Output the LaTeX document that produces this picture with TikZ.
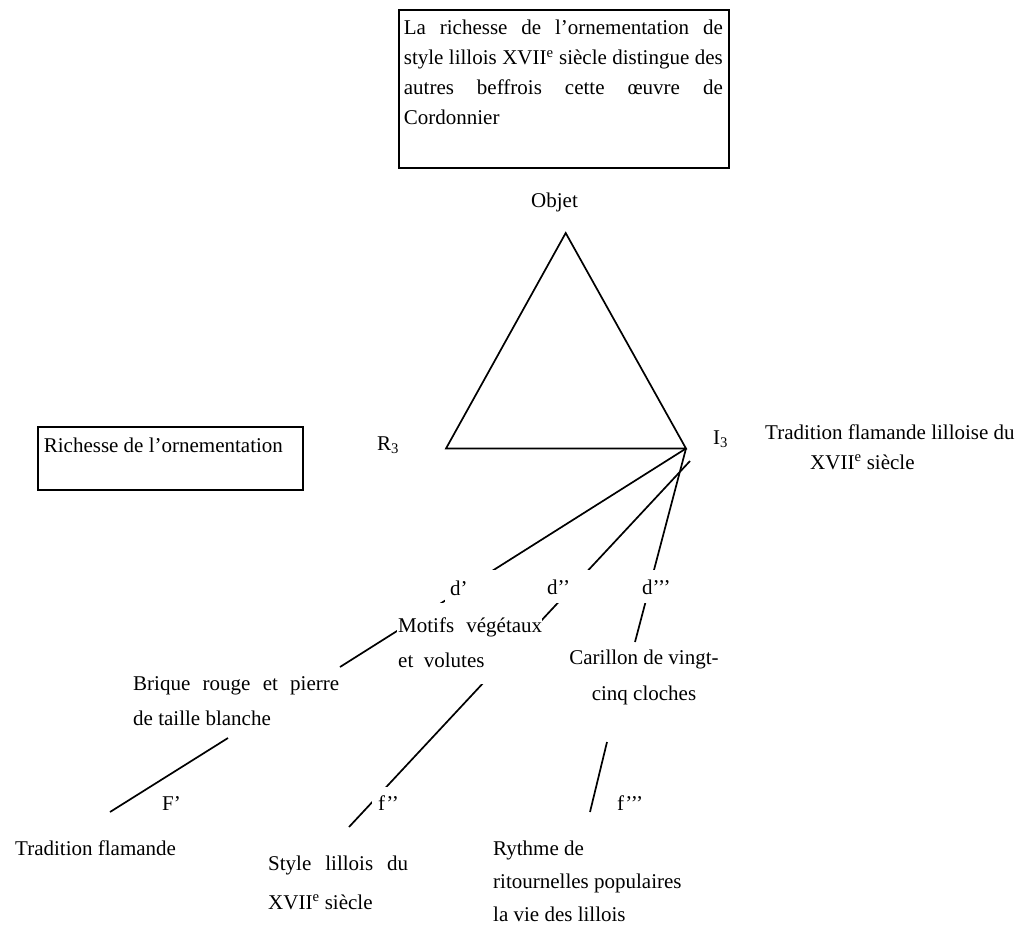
\documentclass[tikz,border=0pt]{standalone}
\usepackage{fontspec}
\setmainfont{Liberation Serif}
\newcommand{\diagfont}{\fontsize{21}{30}\selectfont}
\begin{document}
\begin{tikzpicture}[x=1pt,y=-1pt,
  txt/.style={inner sep=0pt, anchor=base west, font=\diagfont},
  mask/.style={txt, fill=white},
  frame/.style={draw, line width=1.7pt},
  link/.style={line width=1.7pt}]
\useasboundingbox (0,0) rectangle (1027,931);

% corners of the semiotic triangle and free ends of the branches
\coordinate (apex) at (565.7,233);
\coordinate (lv) at (446,448.5);
\coordinate (rv) at (686,448.5);
\coordinate (dAend) at (340,667);
\coordinate (dBstart) at (690,461);
\coordinate (dBend) at (349,827);
\coordinate (dCend) at (635,642);
\coordinate (fAstart) at (228,738);
\coordinate (fAend) at (110,812);
\coordinate (fCstart) at (607,742);
\coordinate (fCend) at (590,812);

% triangle and branches (drawn first, text boxes sit on top)
\draw[link] (apex) -- (lv) -- (rv) -- cycle;
\draw[link] (rv) -- (dAend);
\draw[link] (dBstart) -- (dBend);
\draw[link] (rv) -- (dCend);
\draw[link] (fAstart) -- (fAend);
\draw[link] (fCstart) -- (fCend);

% framed texts
\node[txt, frame, text height=25pt, text depth=133pt] (phrase) at (398,35)
  {\hspace*{5pt}\parbox[t]{319pt}{La richesse de l’ornementation de\linebreak
   style lillois XVII\textsuperscript{e} siècle distingue des\linebreak
   autres beffrois cette œuvre de\linebreak Cordonnier}\hspace*{6pt}};
\node[txt, frame, text height=25pt, text depth=38pt] (richesse) at (37,452)
  {\makebox[265pt][l]{\hspace{6pt}Richesse de l’ornementation}};

% vertex labels
\node[txt] (objet) at (531,207) {Objet};
\node[txt] (r3) at (377,450) {R\textsubscript{3}};
\node[txt] (i3) at (713,444) {I\textsubscript{3}};
\node[txt] (tradlil) at (765,439)
  {\parbox[t]{262pt}{Tradition flamande lilloise du\\
   \hspace*{45pt}XVII\textsuperscript{e} siècle}};

% branch labels
\node[mask, text height=25pt, text depth=8pt] (d1) at (445,595)
  {\makebox[58pt][l]{\hspace{5pt}d’}};
\node[mask, text height=24pt, text depth=9pt] (d2) at (540,594)
  {\makebox[58pt][l]{\hspace{7pt}d’’}};
\node[mask, text height=24pt, text depth=9pt] (d3) at (636,594)
  {\makebox[45pt][l]{\hspace{6pt}d’’’}};

\node[mask, text height=29pt, text depth=52pt] (motifs) at (397,632)
  {\hspace*{1pt}\parbox[t]{144pt}{\fontsize{21}{35}\selectfont
   Motifs végétaux\linebreak et\ \ volutes}};
\node[txt] (brique) at (133,690)
  {\parbox[t]{206pt}{\fontsize{21}{35}\selectfont
   Brique rouge et pierre\linebreak de taille blanche}};
\node[txt, anchor=base] (carillon) at (644,664)
  {\parbox[t]{170pt}{\centering\fontsize{21}{36}\selectfont
   Carillon de vingt-\\cinq cloches}};

\node[txt] (f1) at (162,810) {F’};
\node[mask, text height=23pt, text depth=8pt] (f2) at (372,810)
  {\makebox[40pt][l]{\hspace{6pt}f’’}};
\node[txt] (f3) at (617,810) {f’’’};

\node[txt] (tradfl) at (15,855) {Tradition flamande};
\node[txt] (style) at (268,870)
  {\parbox[t]{140pt}{\fontsize{21}{39}\selectfont
   Style lillois du\linebreak XVII\textsuperscript{e} siècle}};
\node[txt] (rythme) at (493,855)
  {\parbox[t]{220pt}{\fontsize{21}{33}\selectfont
   Rythme de\\ ritournelles populaires\\ la vie des lillois}};
\end{tikzpicture}
\end{document}
